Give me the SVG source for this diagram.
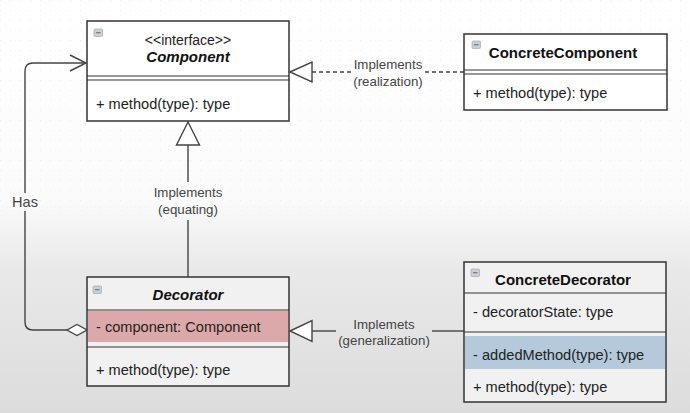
<svg xmlns="http://www.w3.org/2000/svg" width="690" height="413" viewBox="0 0 690 413">
  <defs>
    <linearGradient id="bg" x1="0" y1="0" x2="0" y2="1">
      <stop offset="0" stop-color="#ffffff"/>
      <stop offset="0.48" stop-color="#fbfbfb"/>
      <stop offset="0.65" stop-color="#e9e9e9"/>
      <stop offset="1" stop-color="#dcdcdc"/>
    </linearGradient>
    <pattern id="grid" width="10" height="10" patternUnits="userSpaceOnUse">
      <rect x="0" y="0" width="1" height="1" fill="#ececec"/>
    </pattern>
    <g id="icon">
      <rect x="0" y="0" width="8.5" height="7.5" rx="1" fill="#c9cfd3" stroke="#a9b0b4" stroke-width="0.8"/>
      <line x1="2" y1="3.75" x2="6.5" y2="3.75" stroke="#666" stroke-width="1"/>
    </g>
  </defs>
  <style>
    .box { fill: #ffffff; stroke: #333333; stroke-width: 1.5; }
    .boxl { fill: #f1f1f1; stroke: #333333; stroke-width: 1.5; }
    .sep { stroke: #333333; stroke-width: 1.2; }
    .t { font-family: "Liberation Sans", Arial, sans-serif; font-size: 14.6px; fill: #222; }
    .title { font-family: "Liberation Sans", Arial, sans-serif; font-size: 15px; font-weight: bold; fill: #111; }
    .lbl { font-family: "Liberation Sans", Arial, sans-serif; font-size: 13.3px; fill: #444; text-anchor: middle; }
    .edge { fill: none; stroke: #444444; stroke-width: 1.4; }
    .head { fill: #ffffff; stroke: #444444; stroke-width: 1.4; }
  </style>
  <rect width="690" height="413" fill="url(#bg)"/>
  <rect width="690" height="220" fill="url(#grid)"/>

  <g id="connectors">
    <!-- Has (aggregation) -->
    <path class="edge" d="M 25 193 L 25 71 Q 25 63 33 63 L 86 63"/>
    <path class="edge" d="M 25 211 L 25 322 Q 25 330 33 330 L 68 330"/>
    <path class="edge" d="M 70 55 L 86 63 L 70 71"/>
    <polygon class="head" points="67,330 77,324.5 87,330 77,335.5"/>
    <text class="lbl" x="25" y="207" style="font-size:14.5px">Has</text>

    <!-- realization -->
    <line class="edge" x1="312" y1="72" x2="352" y2="72" stroke-dasharray="4,3"/>
    <line class="edge" x1="425" y1="72" x2="464" y2="72" stroke-dasharray="4,3"/>
    <polygon class="head" points="290,72 312,62 312,82"/>
    <text class="lbl" x="388" y="69">Implements</text>
    <text class="lbl" x="388" y="86">(realization)</text>

    <!-- equating -->
    <line class="edge" x1="188" y1="145" x2="188" y2="182"/>
    <line class="edge" x1="188" y1="220" x2="188" y2="277"/>
    <polygon class="head" points="188,122 176.5,145 199.5,145"/>
    <text class="lbl" x="188" y="197">Implements</text>
    <text class="lbl" x="188" y="214">(equating)</text>

    <!-- generalization -->
    <line class="edge" x1="312" y1="331" x2="336" y2="331"/>
    <line class="edge" x1="432" y1="331" x2="464" y2="331"/>
    <polygon class="head" points="290,331 312,320.5 312,341.5"/>
    <text class="lbl" x="384" y="329">Implemets</text>
    <text class="lbl" x="384" y="345">(generalization)</text>
  </g>

  <g id="component">
    <rect class="box" x="87" y="21" width="202" height="100"/>
    <use href="#icon" x="94" y="29"/>
    <text class="t" x="188" y="45" text-anchor="middle" style="font-size:14px">&lt;&lt;interface&gt;&gt;</text>
    <text class="title" x="188" y="62" text-anchor="middle" font-style="italic">Component</text>
    <line class="sep" x1="87" y1="76" x2="289" y2="76"/>
    <line class="sep" x1="87" y1="80" x2="289" y2="80"/>
    <text class="t" x="96" y="109">+ method(type): type</text>
  </g>

  <g id="concreteComponent">
    <rect class="box" x="464" y="34" width="203" height="76"/>
    <use href="#icon" x="472" y="41"/>
    <text class="title" x="563" y="58" text-anchor="middle">ConcreteComponent</text>
    <line class="sep" x1="464" y1="70" x2="667" y2="70"/>
    <line class="sep" x1="464" y1="74" x2="667" y2="74"/>
    <text class="t" x="473" y="98">+ method(type): type</text>
  </g>

  <g id="decorator">
    <rect class="boxl" x="87" y="277" width="202" height="109"/>
    <rect x="88" y="311" width="200" height="31" fill="#dca9aa"/>
    <use href="#icon" x="93" y="286"/>
    <text class="title" x="188" y="300" text-anchor="middle" font-style="italic">Decorator</text>
    <line class="sep" x1="87" y1="310" x2="289" y2="310"/>
    <line class="sep" x1="87" y1="347" x2="289" y2="347"/>
    <text class="t" x="96" y="332">- component: Component</text>
    <text class="t" x="96" y="375">+ method(type): type</text>
  </g>

  <g id="concreteDecorator">
    <rect class="boxl" x="464" y="262" width="202" height="140"/>
    <rect x="465" y="336" width="200" height="33" fill="#b4c9dc"/>
    <use href="#icon" x="471" y="269"/>
    <text class="title" x="563" y="285" text-anchor="middle">ConcreteDecorator</text>
    <line class="sep" x1="464" y1="293" x2="666" y2="293"/>
    <text class="t" x="473" y="317">- decoratorState: type</text>
    <line class="sep" x1="464" y1="332" x2="666" y2="332"/>
    <text class="t" x="473" y="360">- addedMethod(type): type</text>
    <text class="t" x="473" y="392">+ method(type): type</text>
  </g>
</svg>
